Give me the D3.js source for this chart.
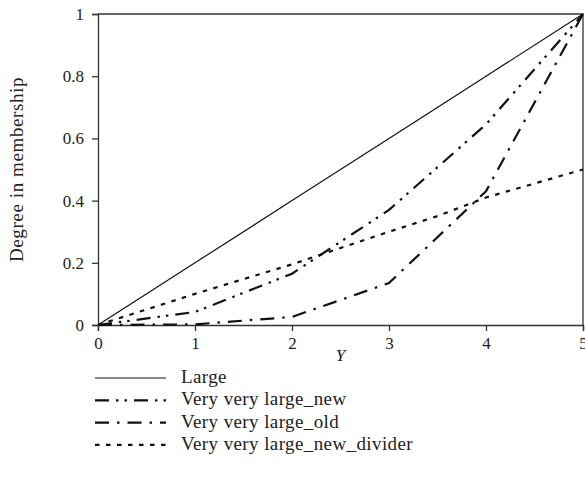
<!DOCTYPE html>
<html>
<head>
<meta charset="utf-8">
<script src="https://cdn.jsdelivr.net/npm/d3@7"></script>
<style>
  html, body { margin: 0; padding: 0; background: #fff; }
  svg { display: block; }
  text { font-family: "Liberation Serif", "DejaVu Serif", serif; fill: #222; }
</style>
</head>
<body>
<svg id="chart" width="585" height="502"></svg>
<script>
// Membership curves over Y
const xTicks = [0, 1, 2, 3, 4, 5];
const yTicks = [0, 0.2, 0.4, 0.6, 0.8, 1];

const xLarge = [0, 1, 2, 3, 4, 5];
const large = [0, 0.2, 0.4, 0.6, 0.8, 1];

const xNew = [0, 1, 2, 3, 4, 5];
const veryVeryLargeNew = [0, 0.042, 0.165, 0.37, 0.645, 1];

const xOld = [0, 1, 2, 3, 4, 5];
const veryVeryLargeOld = [0, 0.002, 0.026, 0.135, 0.43, 1];

const xDivider = [0, 1, 2, 3, 3.5, 4, 5];
const veryVeryLargeNewDivider = [0, 0.1, 0.195, 0.3, 0.35, 0.41, 0.5];

const seriesNames = ["Large", "Very very large_new", "Very very large_old", "Very very large_new_divider"];

const series = [
  { name: seriesNames[0], xs: xLarge, ys: large, dash: null, width: 1.2 },
  { name: seriesNames[1], xs: xNew, ys: veryVeryLargeNew, dash: "14,7,2.5,6,2.5,7", width: 2.2 },
  { name: seriesNames[2], xs: xOld, ys: veryVeryLargeOld, dash: "14,8,2.5,8", width: 2.2 },
  { name: seriesNames[3], xs: xDivider, ys: veryVeryLargeNewDivider, dash: "4.5,6.5", width: 2.2 }
];

const svg = d3.select("#chart");
const mLeft = 98, mRight = 583, mTop = 14, mBottom = 325;

const x = d3.scaleLinear().domain([0, 5]).range([mLeft, mRight]);
const y = d3.scaleLinear().domain([0, 1]).range([mBottom, mTop]);

// frame: top and right edges
svg.append("path")
  .attr("d", `M${mLeft},${mTop}H${mRight}V${mBottom}`)
  .attr("fill", "none").attr("stroke", "#333").attr("stroke-width", 1.3);

const xAxis = svg.append("g")
  .attr("transform", `translate(0,${mBottom})`)
  .call(d3.axisBottom(x).tickValues(xTicks).tickFormat(d3.format("d")).tickSizeOuter(0).tickSize(6).tickPadding(6));
const yAxis = svg.append("g")
  .attr("transform", `translate(${mLeft},0)`)
  .call(d3.axisLeft(y).tickValues(yTicks).tickFormat(d => d === 0 || d === 1 ? d3.format("d")(d) : d3.format(".1f")(d)).tickSizeOuter(0).tickSize(6).tickPadding(8));

[xAxis, yAxis].forEach(g => {
  g.select(".domain").attr("stroke", "#333").attr("stroke-width", 1.3);
  g.selectAll(".tick line").attr("stroke", "#333").attr("stroke-width", 1.3);
  g.selectAll(".tick text")
    .style("font-family", '"Liberation Serif", "DejaVu Serif", serif')
    .style("font-size", "17px").attr("fill", "#222");
});

// axis titles
svg.append("text")
  .attr("x", x(2.5)).attr("y", 361)
  .attr("text-anchor", "middle")
  .style("font-style", "italic").style("font-size", "17px")
  .text("Y");

svg.append("text")
  .attr("transform", `translate(23,${(mTop + mBottom) / 2}) rotate(-90)`)
  .attr("text-anchor", "middle")
  .style("font-size", "19px").style("letter-spacing", "0.6px")
  .text("Degree in membership");

// curves
const line = d3.line();
const plot = svg.append("g");
series.forEach(s => {
  const pts = s.xs.map((v, i) => [x(v), y(s.ys[i])]);
  plot.append("path")
    .attr("d", line(pts))
    .attr("fill", "none")
    .attr("stroke", "#111")
    .attr("stroke-width", s.width)
    .attr("stroke-dasharray", s.dash);
});

// legend
const legend = svg.append("g");
const legendTop = 378, legendStep = 22.3;
series.forEach((s, i) => {
  const ly = legendTop + i * legendStep;
  legend.append("line")
    .attr("x1", 95).attr("x2", 166)
    .attr("y1", ly).attr("y2", ly)
    .attr("stroke", "#111")
    .attr("stroke-width", s.width)
    .attr("stroke-dasharray", s.dash);
  legend.append("text")
    .attr("x", 181).attr("y", ly + 5)
    .style("font-size", "19px").style("letter-spacing", "0.4px")
    .text(s.name);
});
</script>
</body>
</html>
